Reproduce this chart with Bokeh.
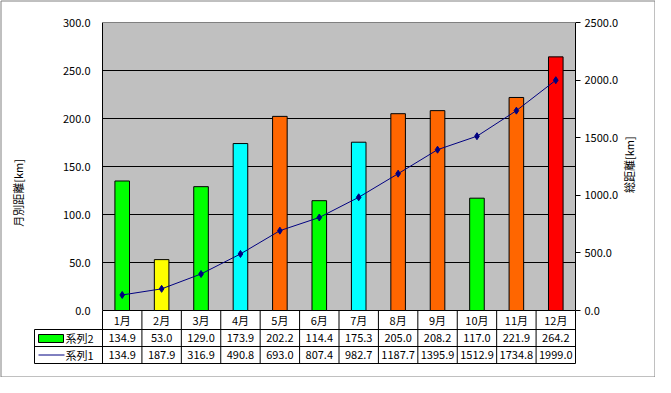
import numpy as np
from bokeh.plotting import figure
from bokeh.models import Range1d, LinearAxis, FixedTicker, NumeralTickFormatter, Grid
from bokeh.core.properties import value
from bokeh.embed import file_html
from bokeh.resources import INLINE

# ---- data ----
months = ["1月", "2月", "3月", "4月", "5月", "6月", "7月", "8月", "9月", "10月", "11月", "12月"]
monthly = [134.9, 53.0, 129.0, 173.9, 202.2, 114.4, 175.3, 205.0, 208.2, 117.0, 221.9, 264.2]
total = [134.9, 187.9, 316.9, 490.8, 693.0, 807.4, 982.7, 1187.7, 1395.9, 1512.9, 1734.8, 1999.0]
bar_colors = ["#00FF00", "#FFFF00", "#00FF00", "#00FFFF", "#FF6600", "#00FF00",
              "#00FFFF", "#FF6600", "#FF6600", "#00FF00", "#FF6600", "#FF0000"]
left_ticks = [0, 50, 100, 150, 200, 250, 300]
right_ticks = [0, 500, 1000, 1500, 2000, 2500]
bar_series = "系列2"
line_series = "系列1"
left_title = "月別距離[km]"
right_title = "総距離[km]"

# ---- layout (pixels) ----
W, H = 655, 377
FL, FR, FT, FB = 102, 575, 22, 363
Y0 = 310
ROW1, ROW2 = 329, 346
FONT = "Noto Sans CJK JP"
FS = "11px"

n = len(months)
ymax = left_ticks[-1]
rmax = right_ticks[-1]
ppu = (Y0 - FT) / ymax
ymin = -(FB - Y0) / ppu
rmin = ymin * rmax / ymax
xppu = (FR - FL) / n


def px_x(px):
    return (px - FL) / xppu


def px_y(py):
    return (Y0 - py) / ppu


xc = np.arange(n) + 0.5

p = figure(width=W, height=H, x_range=Range1d(0, n), y_range=Range1d(ymin, ymax),
           output_backend="svg", toolbar_location=None, x_axis_location=None,
           min_border_left=FL, min_border_right=W - FR, min_border_top=FT,
           min_border_bottom=H - FB)
p.outline_line_color = None
p.background_fill_color = "white"
p.border_fill_color = "white"

for r in p.center:
    if isinstance(r, Grid) and r.dimension == 0:
        r.visible = False

# left axis
ax = p.yaxis[0]
ax.ticker = FixedTicker(ticks=left_ticks)
ax.formatter = NumeralTickFormatter(format="0.0")
ax.bounds = (0, ymax)
ax.major_tick_out = 0
ax.major_tick_in = 0
ax.minor_tick_line_color = None
ax.axis_line_color = "black"
ax.major_label_text_font = FONT
ax.major_label_text_font_size = FS
ax.major_label_text_color = "black"
ax.major_label_standoff = 12
ax.axis_label = left_title
ax.axis_label_text_font = FONT
ax.axis_label_text_font_size = FS
ax.axis_label_text_font_style = "normal"
ax.axis_label_text_color = "black"
ax.axis_label_standoff = 34

for r in p.center:
    if isinstance(r, Grid) and r.dimension == 1:
        r.ticker = FixedTicker(ticks=left_ticks[:-1])
        r.grid_line_color = "black"
        r.grid_line_width = 1

# right axis
p.extra_y_ranges = {"right": Range1d(rmin, rmax)}
rax = LinearAxis(y_range_name="right", ticker=FixedTicker(ticks=right_ticks),
                 formatter=NumeralTickFormatter(format="0.0"), bounds=(0, rmax))
rax.major_tick_out = 5
rax.major_tick_in = 0
rax.minor_tick_line_color = None
rax.axis_line_color = "black"
rax.major_label_text_font = FONT
rax.major_label_text_font_size = FS
rax.major_label_text_color = "black"
rax.major_label_standoff = 4
rax.axis_label = right_title
rax.axis_label_text_font = FONT
rax.axis_label_text_font_size = FS
rax.axis_label_text_font_style = "normal"
rax.axis_label_text_color = "black"
rax.axis_label_standoff = 8
rax.axis_label_orientation = np.pi / 2
p.add_layout(rax, "right")

# plot area
p.quad(left=0, right=n, bottom=0, top=ymax, fill_color="#C0C0C0", line_color=None, level="image")
p.segment(x0=[0], y0=[ymax], x1=[n], y1=[ymax], line_color="#808080", line_width=1, level="overlay")

# bars
p.vbar(x=xc, top=monthly, width=0.37, fill_color=bar_colors, line_color="black", line_width=1)

# line
p.line(xc, total, y_range_name="right", line_color="#000080", line_width=1)
p.scatter(xc, total, y_range_name="right", marker="diamond", size=7,
          fill_color="#000080", line_color="#000080")

# data table
xl = px_x(34)
yr1 = px_y(ROW1)
yr2 = px_y(ROW2)
vx = list(range(n + 1))
p.segment(x0=vx, y0=[0] * len(vx), x1=vx, y1=[ymin] * len(vx), line_color="black", level="overlay")
p.segment(x0=[xl], y0=[yr1], x1=[xl], y1=[ymin], line_color="black", level="overlay")
p.segment(x0=[xl] * 3, y0=[yr1, yr2, ymin], x1=[n] * 3, y1=[yr1, yr2, ymin],
          line_color="black", level="overlay")

tkw = dict(text_font=value(FONT), text_font_size=FS, text_color="black",
           text_baseline="middle", level="overlay")
p.text(x=xc, y=[(0 + yr1) / 2] * n, text=months, text_align="center", **tkw)
p.text(x=xc, y=[(yr1 + yr2) / 2] * n, text=[f"{v:.1f}" for v in monthly], text_align="center", **tkw)
p.text(x=xc, y=[(yr2 + ymin) / 2] * n, text=[f"{v:.1f}" for v in total], text_align="center", **tkw)

# legend keys in table
p.quad(left=[px_x(38)], right=[px_x(63)], top=[px_y(334)], bottom=[px_y(342)],
       fill_color=bar_colors[0], line_color="black", level="overlay")
p.text(x=[px_x(65)], y=[(yr1 + yr2) / 2], text=[bar_series], text_align="left", **tkw)
ly = (yr2 + ymin) / 2
p.segment(x0=[px_x(38)], y0=[ly], x1=[px_x(64)], y1=[ly], line_color="#000080", level="overlay")
p.scatter(x=[px_x(51)], y=[ly], marker="diamond", size=7, fill_color="#000080",
          line_color="#000080", level="overlay")
p.text(x=[px_x(65)], y=[ly], text=[line_series], text_align="left", **tkw)

# outer chart border
p.quad(left=[px_x(0.5)], right=[px_x(W - 0.5)], top=[px_y(0.5)], bottom=[px_y(H - 0.5)],
       fill_color=None, line_color="#808080", line_width=1, level="overlay")

open("out.html", "w").write(file_html(p, INLINE))
